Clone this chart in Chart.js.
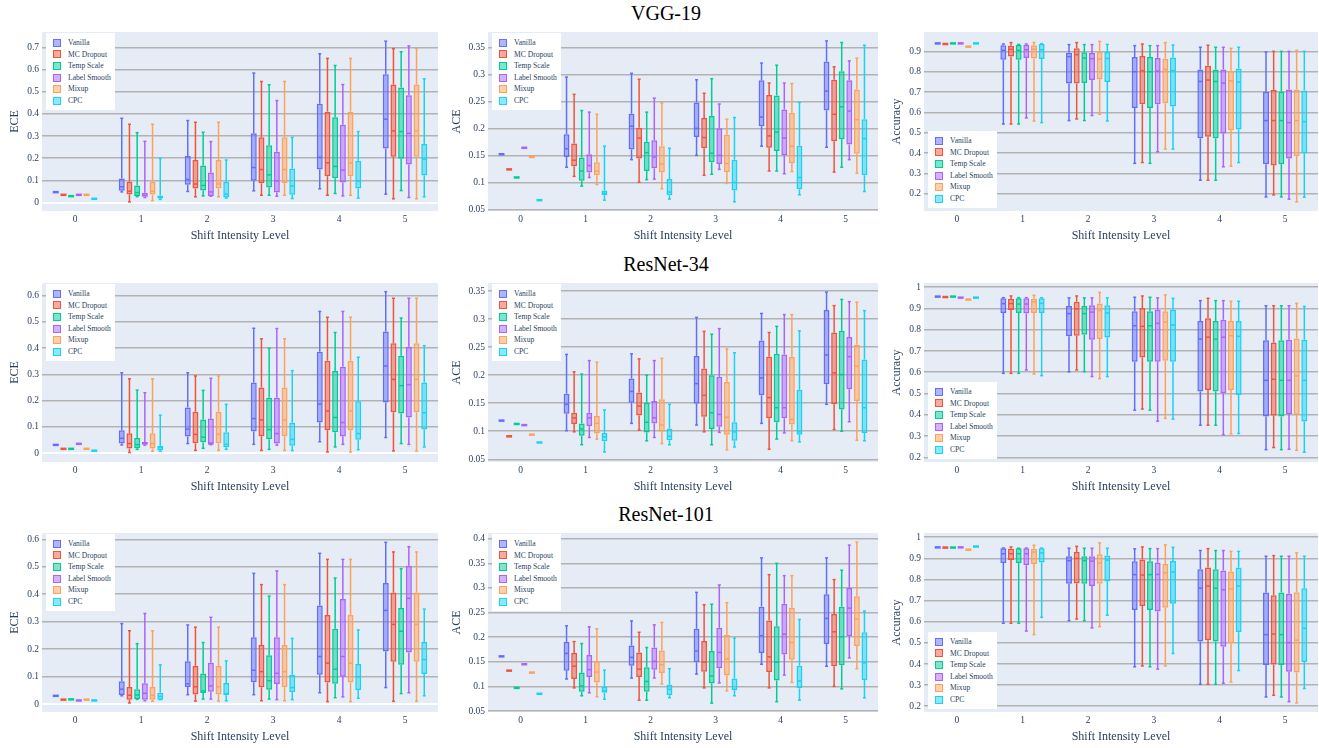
<!DOCTYPE html>
<html>
<head>
<meta charset="utf-8">
<script src="https://cdn.jsdelivr.net/npm/chart.js@4.4.1/dist/chart.umd.min.js"></script>
<style>
  body { margin: 0; width: 1319px; height: 748px; overflow: hidden; position: relative; background: #fff; font-family: "Liberation Serif", "Times New Roman", serif; }
  .cell { position: absolute; }
  .title { position: absolute; transform: translate(-50%, -50%); font-size: 20px; color: #000; white-space: nowrap; }
  .legend { position: absolute; width: 69px; height: 77px; box-sizing: border-box; padding-top: 4px; background: #fff; }
  .legend .item { height: 11.6px; line-height: 11.6px; font-size: 7.6px; color: #2a3f5f; position: relative; padding-left: 22px; white-space: nowrap; }
  .legend .sw { position: absolute; left: 7px; top: 1.8px; width: 8px; height: 8px; box-sizing: border-box; border: 1.5px solid; }
</style>
</head>
<body>
<script>
const levels = ['0', '1', '2', '3', '4', '5'];
const methods = ['Vanilla', 'MC Dropout', 'Temp Scale', 'Label Smooth', 'Mixup', 'CPC'];
const colors = ['#636EFA', '#EF553B', '#00CC96', '#AB63FA', '#FFA15A', '#19D3F3'];

// one row per method; level 0 is a single value, others are [min, q1, median, q3, max]
const vgg19Ece = [
  [0.047, [0.048,0.053,0.071,0.109,0.38], [0.05,0.08,0.104,0.21,0.37], [0.053,0.098,0.158,0.312,0.584], [0.062,0.149,0.204,0.446,0.671], [0.038,0.244,0.376,0.579,0.728]],
  [0.035, [0.003,0.036,0.051,0.094,0.353], [0.026,0.063,0.084,0.192,0.362], [0.033,0.087,0.149,0.294,0.546], [0.033,0.119,0.179,0.41,0.65], [0.017,0.207,0.323,0.532,0.694]],
  [0.029, [0.027,0.03,0.045,0.077,0.315], [0.03,0.054,0.077,0.167,0.317], [0.033,0.068,0.125,0.258,0.531], [0.041,0.11,0.163,0.385,0.618], [0.054,0.198,0.32,0.519,0.68]],
  [0.035, [0.023,0.026,0.033,0.044,0.276], [0.029,0.03,0.048,0.136,0.275], [0.029,0.045,0.098,0.229,0.46], [0.03,0.09,0.146,0.351,0.532], [0.023,0.172,0.312,0.484,0.706]],
  [0.035, [0.009,0.036,0.051,0.094,0.353], [0.026,0.063,0.084,0.192,0.362], [0.033,0.087,0.149,0.294,0.546], [0.033,0.119,0.179,0.41,0.65], [0.017,0.207,0.323,0.532,0.694]],
  [0.017, [0.014,0.018,0.023,0.032,0.199], [0.02,0.023,0.038,0.094,0.192], [0.018,0.035,0.075,0.154,0.294], [0.02,0.063,0.097,0.189,0.32], [0.026,0.122,0.196,0.264,0.558]]
];
const vgg19Ace = [
  [0.152, [0.128,0.147,0.162,0.189,0.295], [0.142,0.161,0.204,0.227,0.302], [0.15,0.184,0.2,0.248,0.29], [0.167,0.204,0.221,0.289,0.321], [0.165,0.233,0.269,0.324,0.362]],
  [0.124, [0.111,0.13,0.141,0.172,0.263], [0.1,0.144,0.182,0.201,0.291], [0.113,0.163,0.183,0.219,0.265], [0.121,0.164,0.186,0.262,0.284], [0.119,0.176,0.226,0.29,0.314]],
  [0.109, [0.093,0.103,0.121,0.146,0.233], [0.105,0.121,0.155,0.175,0.23], [0.115,0.137,0.154,0.223,0.292], [0.121,0.158,0.193,0.261,0.317], [0.128,0.18,0.24,0.306,0.359]],
  [0.164, [0.109,0.118,0.131,0.152,0.23], [0.106,0.126,0.147,0.178,0.256], [0.124,0.134,0.15,0.2,0.245], [0.116,0.15,0.182,0.235,0.284], [0.142,0.17,0.232,0.289,0.325]],
  [0.147, [0.096,0.113,0.121,0.137,0.226], [0.088,0.118,0.134,0.167,0.247], [0.098,0.119,0.135,0.188,0.217], [0.12,0.135,0.167,0.229,0.283], [0.117,0.153,0.216,0.272,0.33]],
  [0.067, [0.067,0.076,0.08,0.085,0.167], [0.069,0.076,0.082,0.106,0.163], [0.064,0.085,0.1,0.142,0.22], [0.077,0.087,0.109,0.168,0.248], [0.083,0.113,0.181,0.217,0.354]]
];
const vgg19Acc = [
  [0.939, [0.543,0.859,0.905,0.93,0.936], [0.56,0.742,0.874,0.893,0.933], [0.35,0.622,0.8,0.872,0.928], [0.267,0.473,0.752,0.811,0.92], [0.185,0.346,0.56,0.701,0.897]],
  [0.936, [0.543,0.875,0.91,0.928,0.943], [0.568,0.742,0.884,0.915,0.943], [0.354,0.64,0.805,0.877,0.936], [0.267,0.481,0.759,0.829,0.93], [0.195,0.34,0.56,0.711,0.9]],
  [0.939, [0.543,0.859,0.905,0.931,0.934], [0.56,0.744,0.867,0.895,0.933], [0.35,0.622,0.8,0.872,0.928], [0.267,0.473,0.752,0.811,0.92], [0.185,0.346,0.56,0.701,0.9]],
  [0.939, [0.573,0.867,0.908,0.933,0.936], [0.585,0.759,0.864,0.892,0.933], [0.407,0.64,0.803,0.867,0.928], [0.333,0.497,0.744,0.811,0.92], [0.174,0.374,0.55,0.713,0.9]],
  [0.923, [0.558,0.865,0.911,0.93,0.944], [0.591,0.762,0.862,0.897,0.949], [0.42,0.645,0.811,0.864,0.943], [0.336,0.512,0.755,0.805,0.915], [0.161,0.386,0.56,0.713,0.905]],
  [0.939, [0.55,0.862,0.908,0.936,0.938], [0.558,0.75,0.865,0.897,0.934], [0.42,0.629,0.805,0.87,0.931], [0.354,0.516,0.749,0.816,0.92], [0.184,0.4,0.555,0.708,0.9]]
];
const resnet34Ece = [
  [0.032, [0.032,0.037,0.057,0.088,0.306], [0.037,0.064,0.092,0.174,0.306], [0.034,0.083,0.132,0.269,0.475], [0.044,0.117,0.187,0.386,0.539], [0.06,0.193,0.332,0.463,0.614]],
  [0.017, [0.003,0.018,0.037,0.076,0.283], [0.011,0.038,0.072,0.158,0.294], [0.011,0.065,0.127,0.25,0.435], [0.005,0.088,0.161,0.352,0.517], [0.009,0.156,0.281,0.418,0.589]],
  [0.017, [0.015,0.019,0.033,0.058,0.24], [0.019,0.042,0.061,0.128,0.239], [0.015,0.053,0.09,0.211,0.399], [0.024,0.08,0.136,0.313,0.459], [0.037,0.151,0.257,0.371,0.514]],
  [0.036, [0.031,0.033,0.038,0.043,0.23], [0.033,0.033,0.039,0.132,0.285], [0.031,0.037,0.075,0.211,0.474], [0.034,0.064,0.117,0.329,0.539], [0.034,0.136,0.261,0.405,0.589]],
  [0.017, [0.008,0.018,0.037,0.076,0.283], [0.011,0.038,0.072,0.158,0.294], [0.011,0.065,0.127,0.25,0.435], [0.005,0.088,0.161,0.352,0.517], [0.009,0.156,0.281,0.418,0.589]],
  [0.01, [0.008,0.011,0.022,0.029,0.145], [0.015,0.023,0.034,0.08,0.186], [0.011,0.029,0.053,0.116,0.314], [0.014,0.052,0.075,0.198,0.365], [0.024,0.09,0.154,0.269,0.409]]
];
const resnet34Ace = [
  [0.119, [0.101,0.131,0.148,0.167,0.237], [0.114,0.151,0.171,0.194,0.238], [0.111,0.149,0.185,0.234,0.303], [0.114,0.164,0.195,0.262,0.31], [0.148,0.184,0.236,0.316,0.348]],
  [0.091, [0.099,0.113,0.124,0.133,0.206], [0.102,0.128,0.145,0.169,0.229], [0.099,0.126,0.164,0.212,0.278], [0.068,0.123,0.16,0.233,0.276], [0.103,0.148,0.204,0.276,0.324]],
  [0.113, [0.076,0.092,0.104,0.114,0.202], [0.083,0.098,0.116,0.151,0.2], [0.076,0.104,0.133,0.2,0.273], [0.086,0.116,0.142,0.238,0.287], [0.1,0.139,0.201,0.279,0.335]],
  [0.111, [0.089,0.109,0.124,0.133,0.226], [0.089,0.114,0.124,0.154,0.226], [0.098,0.108,0.13,0.197,0.283], [0.097,0.123,0.142,0.237,0.308], [0.117,0.175,0.233,0.268,0.331]],
  [0.094, [0.086,0.096,0.114,0.127,0.223], [0.078,0.099,0.111,0.157,0.23], [0.067,0.094,0.125,0.188,0.247], [0.083,0.112,0.121,0.233,0.308], [0.084,0.154,0.216,0.254,0.33]],
  [0.08, [0.063,0.082,0.09,0.097,0.138], [0.076,0.084,0.091,0.105,0.148], [0.072,0.083,0.099,0.116,0.24], [0.081,0.094,0.099,0.174,0.279], [0.083,0.097,0.142,0.228,0.315]]
];
const resnet34Acc = [
  [0.956, [0.595,0.879,0.923,0.948,0.951], [0.602,0.77,0.876,0.912,0.95], [0.422,0.649,0.819,0.887,0.953], [0.351,0.51,0.756,0.841,0.937], [0.236,0.392,0.562,0.751,0.913]],
  [0.954, [0.595,0.893,0.923,0.945,0.959], [0.611,0.772,0.898,0.932,0.959], [0.427,0.669,0.816,0.902,0.959], [0.351,0.517,0.765,0.854,0.948], [0.246,0.395,0.567,0.74,0.913]],
  [0.956, [0.595,0.879,0.921,0.948,0.951], [0.603,0.776,0.876,0.912,0.95], [0.422,0.649,0.819,0.887,0.953], [0.351,0.51,0.756,0.841,0.937], [0.236,0.392,0.562,0.751,0.913]],
  [0.951, [0.611,0.876,0.921,0.948,0.951], [0.58,0.753,0.883,0.915,0.95], [0.37,0.649,0.83,0.894,0.95], [0.306,0.501,0.765,0.847,0.937], [0.238,0.403,0.562,0.753,0.913]],
  [0.942, [0.592,0.879,0.931,0.946,0.962], [0.57,0.757,0.891,0.924,0.976], [0.383,0.654,0.836,0.887,0.964], [0.31,0.517,0.772,0.841,0.934], [0.233,0.4,0.583,0.759,0.924]],
  [0.951, [0.584,0.879,0.924,0.948,0.951], [0.58,0.764,0.879,0.915,0.95], [0.38,0.649,0.822,0.894,0.948], [0.312,0.493,0.769,0.841,0.934], [0.224,0.369,0.562,0.753,0.91]]
];
const resnet101Ece = [
  [0.03, [0.03,0.033,0.054,0.083,0.293], [0.034,0.062,0.074,0.156,0.288], [0.034,0.079,0.123,0.243,0.476], [0.041,0.107,0.173,0.359,0.549], [0.06,0.191,0.341,0.441,0.589]],
  [0.016, [0.004,0.016,0.032,0.062,0.267], [0.011,0.035,0.063,0.139,0.28], [0.012,0.061,0.118,0.215,0.435], [0.009,0.078,0.149,0.324,0.527], [0.01,0.154,0.29,0.406,0.554]],
  [0.017, [0.017,0.018,0.033,0.054,0.22], [0.018,0.04,0.048,0.111,0.224], [0.018,0.052,0.085,0.178,0.393], [0.023,0.074,0.127,0.274,0.459], [0.038,0.143,0.265,0.35,0.493]],
  [0.013, [0.012,0.016,0.039,0.076,0.33], [0.018,0.045,0.066,0.15,0.316], [0.016,0.073,0.112,0.243,0.485], [0.026,0.099,0.173,0.383,0.527], [0.041,0.188,0.385,0.504,0.573]],
  [0.016, [0.01,0.016,0.032,0.062,0.267], [0.011,0.035,0.063,0.139,0.28], [0.012,0.061,0.118,0.215,0.435], [0.009,0.078,0.149,0.324,0.527], [0.01,0.154,0.29,0.406,0.554]],
  [0.013, [0.016,0.016,0.028,0.041,0.143], [0.012,0.032,0.038,0.077,0.157], [0.016,0.043,0.06,0.107,0.239], [0.021,0.051,0.099,0.146,0.27], [0.03,0.109,0.162,0.226,0.346]]
];
const resnet101Ace = [
  [0.161, [0.115,0.132,0.167,0.19,0.223], [0.117,0.142,0.159,0.183,0.233], [0.125,0.149,0.172,0.217,0.291], [0.145,0.168,0.203,0.262,0.361], [0.141,0.186,0.238,0.287,0.361]],
  [0.132, [0.097,0.115,0.141,0.168,0.191], [0.072,0.119,0.135,0.169,0.21], [0.097,0.13,0.149,0.192,0.266], [0.097,0.129,0.16,0.234,0.327], [0.1,0.141,0.211,0.247,0.317]],
  [0.097, [0.081,0.089,0.101,0.128,0.187], [0.072,0.089,0.11,0.139,0.179], [0.066,0.106,0.121,0.172,0.267], [0.069,0.112,0.149,0.222,0.35], [0.095,0.143,0.201,0.262,0.336]],
  [0.145, [0.087,0.119,0.134,0.164,0.221], [0.117,0.134,0.151,0.179,0.225], [0.107,0.137,0.169,0.219,0.306], [0.123,0.165,0.206,0.268,0.325], [0.158,0.202,0.259,0.3,0.387]],
  [0.128, [0.079,0.108,0.129,0.151,0.217], [0.105,0.127,0.144,0.173,0.23], [0.091,0.122,0.156,0.205,0.27], [0.108,0.154,0.189,0.26,0.325], [0.136,0.182,0.237,0.283,0.393]],
  [0.085, [0.074,0.087,0.091,0.099,0.133], [0.077,0.082,0.094,0.104,0.136], [0.081,0.092,0.094,0.116,0.198], [0.072,0.096,0.111,0.142,0.236], [0.077,0.113,0.148,0.21,0.253]]
];
const resnet101Acc = [
  [0.952, [0.593,0.878,0.922,0.948,0.949], [0.605,0.78,0.889,0.91,0.948], [0.387,0.656,0.823,0.886,0.945], [0.304,0.507,0.759,0.849,0.937], [0.244,0.395,0.539,0.739,0.91]],
  [0.951, [0.593,0.892,0.922,0.946,0.954], [0.613,0.781,0.9,0.93,0.957], [0.391,0.675,0.821,0.895,0.954], [0.304,0.513,0.769,0.857,0.946], [0.252,0.398,0.542,0.726,0.913]],
  [0.951, [0.593,0.878,0.922,0.948,0.948], [0.605,0.78,0.889,0.91,0.948], [0.387,0.656,0.823,0.886,0.946], [0.304,0.507,0.759,0.849,0.937], [0.244,0.395,0.539,0.739,0.91]],
  [0.952, [0.556,0.868,0.922,0.948,0.949], [0.571,0.769,0.887,0.91,0.948], [0.376,0.648,0.824,0.88,0.946], [0.309,0.482,0.751,0.843,0.937], [0.222,0.363,0.501,0.732,0.91]],
  [0.941, [0.539,0.872,0.93,0.946,0.962], [0.577,0.78,0.878,0.919,0.973], [0.391,0.666,0.832,0.873,0.964], [0.315,0.498,0.756,0.838,0.933], [0.216,0.36,0.513,0.74,0.926]],
  [0.956, [0.621,0.881,0.926,0.948,0.949], [0.631,0.791,0.892,0.914,0.948], [0.45,0.685,0.835,0.887,0.952], [0.369,0.551,0.769,0.857,0.933], [0.284,0.41,0.569,0.759,0.91]]
];

const eceTicksVgg = [0, 0.1, 0.2, 0.3, 0.4, 0.5, 0.6, 0.7];
const eceTicks = [0, 0.1, 0.2, 0.3, 0.4, 0.5, 0.6];
const aceTicks = [0.05, 0.1, 0.15, 0.2, 0.25, 0.3, 0.35];
const aceTicksR101 = [0.05, 0.1, 0.15, 0.2, 0.25, 0.3, 0.35, 0.4];
const accTicksVgg = [0.2, 0.3, 0.4, 0.5, 0.6, 0.7, 0.8, 0.9];
const accTicks = [0.2, 0.3, 0.4, 0.5, 0.6, 0.7, 0.8, 0.9, 1];

const rowTitles = ['VGG-19', 'ResNet-34', 'ResNet-101'];

const panels = [
  { row: 0, col: 0, data: vgg19Ece, label: 'ECE', ticks: eceTicksVgg, min: -0.038, max: 0.769 },
  { row: 0, col: 1, data: vgg19Ace, label: 'ACE', ticks: aceTicks, min: 0.0469, max: 0.3785 },
  { row: 0, col: 2, data: vgg19Acc, label: 'Accuracy', ticks: accTicksVgg, min: 0.116, max: 0.995 },
  { row: 1, col: 0, data: resnet34Ece, label: 'ECE', ticks: eceTicks, min: -0.033, max: 0.647 },
  { row: 1, col: 1, data: resnet34Ace, label: 'ACE', ticks: aceTicks, min: 0.0452, max: 0.3643 },
  { row: 1, col: 2, data: resnet34Acc, label: 'Accuracy', ticks: accTicks, min: 0.178, max: 1.02 },
  { row: 2, col: 0, data: resnet101Ece, label: 'ECE', ticks: eceTicks, min: -0.029, max: 0.623 },
  { row: 2, col: 1, data: resnet101Ace, label: 'ACE', ticks: aceTicksR101, min: 0.048, max: 0.4116 },
  { row: 2, col: 2, data: resnet101Acc, label: 'Accuracy', ticks: accTicks, min: 0.173, max: 1.02 }
];

// page geometry
const colX = [0, 440, 880];
const colW = [440, 440, 439];
const plotLeft = [42, 48, 44];
const plotRight = [438, 438, 438];
const yTitlePad = [8, 9.5, 10];
const rowY = [0, 251, 501];
const CELL_H = 247, PLOT_TOP = 32, PLOT_BOTTOM = 211;
const FONT = '"Liberation Serif", "Times New Roman", serif';
const TEXT = '#2a3f5f';

function rgba(hex, a) {
  const n = parseInt(hex.slice(1), 16);
  return `rgba(${n >> 16}, ${(n >> 8) & 255}, ${n & 255}, ${a})`;
}

const boxPlugin = {
  id: 'boxes',
  beforeDraw(chart) {
    const { ctx, chartArea: a } = chart;
    ctx.save();
    ctx.fillStyle = '#E5ECF6';
    ctx.fillRect(a.left, a.top, a.right - a.left, a.bottom - a.top);
    ctx.restore();
  },
  afterDatasetsDraw(chart) {
    const ctx = chart.ctx;
    const y = chart.scales.y;
    const line = (x1, y1, x2, y2) => { ctx.beginPath(); ctx.moveTo(x1, y1); ctx.lineTo(x2, y2); ctx.stroke(); };
    chart.data.datasets.forEach((ds, di) => {
      const meta = chart.getDatasetMeta(di);
      meta.data.forEach((bar, i) => {
        const s = ds.stats[i];
        const x = bar.x, w = bar.width;
        ctx.save();
        ctx.strokeStyle = ds.borderColor;
        if (!Array.isArray(s)) {
          ctx.lineWidth = 2.5;
          line(x - w / 2, y.getPixelForValue(s), x + w / 2, y.getPixelForValue(s));
        } else {
          const [mn, q1, md, q3, mx] = s.map(v => y.getPixelForValue(v));
          ctx.lineWidth = 1.5;
          line(x, q3, x, mx);
          line(x, q1, x, mn);
          line(x - 1.5, mx, x + 1.5, mx);
          line(x - 1.5, mn, x + 1.5, mn);
          line(x - w / 2 + 1, md, x + w / 2 - 1, md);
        }
        ctx.restore();
      });
    });
  }
};

function makeLegend(cell, col) {
  const lg = document.createElement('div');
  lg.className = 'legend';
  lg.style.left = (plotLeft[col] + 4) + 'px';
  lg.style.top = (col === 2 ? PLOT_BOTTOM - 3 - 77 : PLOT_TOP + 1) + 'px';
  methods.forEach((m, k) => {
    const it = document.createElement('div');
    it.className = 'item';
    it.innerHTML = `<span class="sw" style="background:${rgba(colors[k], 0.5)};border-color:${colors[k]}"></span>${m}`;
    lg.appendChild(it);
  });
  cell.appendChild(lg);
}

rowTitles.forEach((t, r) => {
  const d = document.createElement('div');
  d.className = 'title';
  d.textContent = t;
  d.style.left = '666px';
  d.style.top = (rowY[r] + 13) + 'px';
  document.body.appendChild(d);
});

panels.forEach(p => {
  const cell = document.createElement('div');
  cell.className = 'cell';
  cell.style.left = colX[p.col] + 'px';
  cell.style.top = rowY[p.row] + 'px';
  cell.style.width = colW[p.col] + 'px';
  cell.style.height = CELL_H + 'px';
  const canvas = document.createElement('canvas');
  cell.appendChild(canvas);
  document.body.appendChild(cell);

  const datasets = methods.map((m, k) => ({
    label: m,
    stats: p.data[k],
    data: p.data[k].map(v => Array.isArray(v) ? [v[1], v[3]] : [v, v]),
    backgroundColor: rgba(colors[k], 0.5),
    borderColor: colors[k],
    borderWidth: 1.5,
    borderSkipped: false
  }));

  new Chart(canvas, {
    type: 'bar',
    data: { labels: levels, datasets },
    options: {
      responsive: true,
      maintainAspectRatio: false,
      animation: false,
      devicePixelRatio: 1,
      categoryPercentage: 0.7,
      barPercentage: 0.78,
      layout: { padding: { top: PLOT_TOP, left: 0, bottom: 0, right: colW[p.col] - plotRight[p.col] } },
      plugins: { legend: { display: false }, tooltip: { enabled: false } },
      scales: {
        x: {
          type: 'category',
          offset: true,
          grid: { display: false, drawTicks: false },
          border: { display: false },
          ticks: { padding: 3, color: TEXT, font: { family: FONT, size: 9.5 } },
          title: { display: true, text: 'Shift Intensity Level', color: TEXT, font: { family: FONT, size: 12 }, padding: { top: 0, bottom: 4 } },
          afterFit: s => { s.height = CELL_H - PLOT_BOTTOM; }
        },
        y: {
          min: p.min,
          max: p.max,
          afterBuildTicks: s => { s.ticks = p.ticks.map(v => ({ value: v })); },
          afterFit: s => { s.width = plotLeft[p.col]; },
          grid: {
            drawTicks: false,
            color: c => c.tick && c.tick.value === 0 ? '#ffffff' : 'rgba(172,172,172,0.9)',
            lineWidth: c => c.tick && c.tick.value === 0 ? 2 : 1.6
          },
          border: { display: false },
          ticks: { padding: 3, autoSkip: false, color: TEXT, font: { family: FONT, size: 9.5 }, callback: v => String(+Number(v).toFixed(2)) },
          title: { display: true, text: p.label, color: TEXT, font: { family: FONT, size: 12 }, padding: { top: yTitlePad[p.col], bottom: 0 } }
        }
      }
    },
    plugins: [boxPlugin]
  });

  makeLegend(cell, p.col);
});
</script>
</body>
</html>
